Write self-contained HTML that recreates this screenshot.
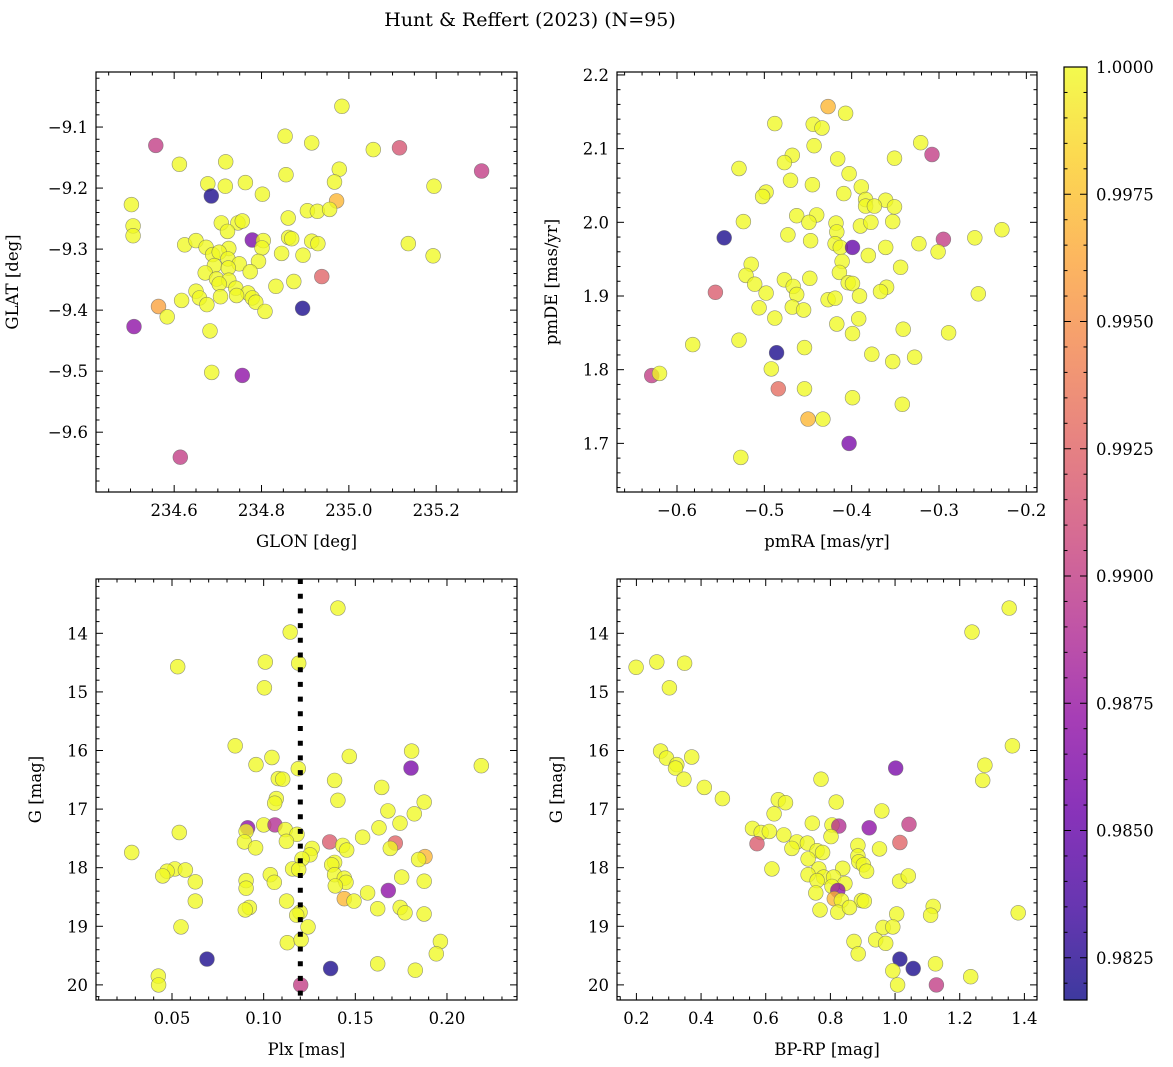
<!DOCTYPE html>
<html><head><meta charset="utf-8">
<style>
html,body{margin:0;padding:0;background:#fff;}
svg{display:block;font-family:"DejaVu Serif","Liberation Serif",serif;}
</style></head>
<body>
<svg id="fig" width="1173" height="1067" viewBox="0 0 1173 1067">
<defs>
<linearGradient id="plasmaGrad" x1="0" y1="1" x2="0" y2="0">
<stop offset="0" stop-color="#0d0887"/><stop offset="0.1" stop-color="#41049d"/><stop offset="0.2" stop-color="#6a00a8"/><stop offset="0.3" stop-color="#8f0da4"/><stop offset="0.4" stop-color="#b12a90"/><stop offset="0.5" stop-color="#cc4778"/><stop offset="0.6" stop-color="#e16462"/><stop offset="0.7" stop-color="#f2844b"/><stop offset="0.8" stop-color="#fca636"/><stop offset="0.9" stop-color="#fcce25"/><stop offset="1" stop-color="#f0f921"/>
</linearGradient>
</defs>
<text x="530" y="26" text-anchor="middle" font-size="19">Hunt &amp; Reffert (2023) (N=95)</text>
</svg>
<script>
// Panel 1: GLON / GLAT
const p1x=[234.984,234.854,234.915,234.558,235.056,235.116,235.304,234.612,234.718,234.978,234.856,234.677,234.717,234.763,234.967,234.685,234.802,235.195,234.502,234.972,234.905,234.928,234.956,234.861,234.708,234.746,234.756,234.506,234.722,234.506,234.779,234.804,234.862,234.869,234.915,234.929,235.136,234.624,234.650,234.673,234.725,234.801,234.688,234.703,234.846,234.895,235.193,234.723,234.749,234.793,234.692,234.724,234.671,234.774,234.938,234.697,234.725,234.833,234.874,234.650,234.741,234.703,234.769,234.658,234.706,234.743,234.779,234.787,234.617,234.675,234.564,234.808,234.894,234.584,234.508,234.682,234.686,234.756,234.614];
const p1y=[-9.066,-9.115,-9.126,-9.130,-9.137,-9.134,-9.172,-9.161,-9.157,-9.169,-9.178,-9.193,-9.197,-9.191,-9.190,-9.213,-9.210,-9.197,-9.227,-9.221,-9.237,-9.238,-9.235,-9.249,-9.257,-9.257,-9.254,-9.262,-9.271,-9.278,-9.285,-9.286,-9.281,-9.283,-9.287,-9.291,-9.291,-9.293,-9.286,-9.297,-9.299,-9.298,-9.309,-9.305,-9.307,-9.310,-9.311,-9.316,-9.324,-9.320,-9.327,-9.331,-9.339,-9.337,-9.345,-9.349,-9.351,-9.361,-9.353,-9.369,-9.364,-9.357,-9.372,-9.380,-9.378,-9.376,-9.380,-9.387,-9.384,-9.391,-9.394,-9.402,-9.397,-9.411,-9.427,-9.434,-9.502,-9.507,-9.641];
const p1p=[1,1,1,.990,1,.9915,.990,1,1,1,
1,1,1,1,1,.982,1,1,1,.997,
1,1,1,1,1,1,1,1,1,1,
.986,1,1,1,1,1,1,1,1,1,
1,1,1,1,1,1,1,1,1,1,
1,1,1,1,.9925,1,1,1,1,1,
1,1,1,1,1,1,1,1,1,1,
.996,1,.982,1,.987,1,1,.987,.990];
// Panel 2: pmRA / pmDE
const p2x=[-0.427,-0.407,-0.488,-0.444,-0.434,-0.321,-0.308,-0.443,-0.468,-0.477,-0.416,-0.351,-0.529,-0.403,-0.470,-0.445,-0.389,-0.498,-0.502,-0.409,-0.384,-0.361,-0.384,-0.374,-0.351,-0.463,-0.440,-0.449,-0.418,-0.390,-0.378,-0.353,-0.524,-0.417,-0.228,-0.473,-0.447,-0.546,-0.419,-0.413,-0.399,-0.295,-0.259,-0.323,-0.361,-0.301,-0.381,-0.411,-0.515,-0.344,-0.414,-0.521,-0.448,-0.477,-0.511,-0.467,-0.404,-0.399,-0.556,-0.498,-0.463,-0.360,-0.367,-0.391,-0.427,-0.419,-0.255,-0.506,-0.468,-0.455,-0.488,-0.392,-0.417,-0.399,-0.341,-0.289,-0.582,-0.529,-0.454,-0.486,-0.377,-0.328,-0.353,-0.492,-0.629,-0.620,-0.484,-0.454,-0.399,-0.342,-0.450,-0.433,-0.403,-0.527];
const p2y=[2.157,2.148,2.134,2.133,2.128,2.108,2.092,2.104,2.091,2.081,2.086,2.087,2.073,2.066,2.057,2.051,2.048,2.041,2.035,2.039,2.031,2.030,2.022,2.022,2.021,2.009,2.010,2.000,1.999,1.995,2.000,2.001,2.001,1.987,1.990,1.983,1.975,1.979,1.971,1.966,1.966,1.977,1.979,1.971,1.966,1.960,1.955,1.947,1.943,1.939,1.932,1.928,1.924,1.922,1.916,1.913,1.918,1.917,1.905,1.904,1.902,1.912,1.906,1.900,1.895,1.897,1.903,1.884,1.885,1.881,1.870,1.869,1.862,1.849,1.855,1.850,1.834,1.840,1.830,1.823,1.821,1.817,1.811,1.801,1.792,1.795,1.774,1.774,1.762,1.753,1.733,1.733,1.700,1.681];
const p2p=[.997,1,1,1,1,1,.990,1,1,1,
1,1,1,1,1,1,1,1,1,1,
1,1,1,1,1,1,1,1,1,1,
1,1,1,1,1,1,1,.982,1,1,
.985,.990,1,1,1,1,1,1,1,1,
1,1,1,1,1,1,1,1,.992,1,
1,1,1,1,1,1,1,1,1,1,
1,1,1,1,1,1,1,1,1,.982,
1,1,1,1,.990,1,.993,1,1,1,
.997,1,.986,1];
// Panel 3: Plx / G
const p3x=[0.1405,0.1145,0.0531,0.1009,0.1191,0.1004,0.0845,0.1045,0.0958,0.1467,0.1807,0.2187,0.1189,0.1804,0.1080,0.1104,0.1387,0.1644,0.1069,0.1060,0.1405,0.1876,0.1678,0.1822,0.1744,0.1000,0.1062,0.0913,0.1118,0.0904,0.1182,0.0540,0.1629,0.1540,0.1124,0.0895,0.1360,0.1431,0.1453,0.0956,0.1264,0.1718,0.1691,0.0280,0.1253,0.1209,0.1880,0.1845,0.1387,0.1371,0.1158,0.1191,0.0515,0.0473,0.0573,0.0449,0.1036,0.1387,0.1440,0.1449,0.1753,0.1876,0.0904,0.0627,0.1058,0.0904,0.1391,0.1680,0.1567,0.1440,0.1493,0.0627,0.1125,0.0922,0.0900,0.1622,0.1745,0.1771,0.1875,0.1198,0.1180,0.1242,0.0549,0.1129,0.1204,0.1964,0.1942,0.0691,0.1365,0.1622,0.1827,0.0425,0.0427,0.1202];
const p3y=[13.57,13.98,14.57,14.49,14.51,14.93,15.92,16.12,16.24,16.10,16.01,16.26,16.31,16.30,16.48,16.49,16.51,16.63,16.82,16.90,16.85,16.88,17.03,17.08,17.24,17.27,17.27,17.32,17.35,17.38,17.43,17.40,17.32,17.48,17.55,17.56,17.56,17.62,17.70,17.66,17.67,17.58,17.67,17.74,17.78,17.85,17.81,17.86,17.91,17.95,18.02,18.03,18.02,18.06,18.04,18.14,18.12,18.12,18.18,18.25,18.16,18.23,18.22,18.24,18.25,18.35,18.31,18.39,18.43,18.53,18.57,18.57,18.57,18.68,18.72,18.70,18.68,18.77,18.79,18.76,18.81,19.01,19.01,19.28,19.23,19.26,19.47,19.56,19.72,19.64,19.75,19.85,20.00,20.00];
const p3p=[1,1,1,1,1,1,1,1,1,1,
1,1,1,.986,1,1,1,1,1,1,
1,1,1,1,1,1,.989,.987,1,1,
1,1,1,1,1,1,.992,1,1,1,
1,.9925,1,1,1,1,.997,1,1,1,
1,1,1,1,1,1,1,1,1,1,
1,1,1,1,1,1,1,.987,1,.997,
1,1,1,1,1,1,1,1,1,1,
1,1,1,1,1,1,1,.982,.982,1,
1,1,1,.990];
const plxCut=[0.12];
// Panel 4: BP-RP / G
const p4x=[1.353,1.238,0.199,0.263,0.349,0.302,0.275,0.293,0.325,0.321,0.371,1.363,1.002,1.278,1.271,0.347,0.410,0.771,0.466,0.639,0.661,0.818,0.626,0.959,0.744,0.805,0.826,0.920,1.043,0.559,0.586,0.611,0.573,0.656,0.802,1.015,0.696,0.729,0.681,0.885,0.952,0.759,0.776,0.885,0.731,0.888,0.902,0.912,0.619,0.764,0.838,0.731,0.779,0.759,0.810,0.845,0.805,1.014,1.041,0.755,0.823,0.812,0.834,0.896,0.905,0.768,0.823,0.859,1.005,1.118,1.110,1.381,0.963,0.993,0.873,0.940,0.971,0.886,1.015,1.056,0.993,1.125,1.234,1.008,1.128];
const p4y=[13.57,13.98,14.58,14.49,14.51,14.93,16.01,16.13,16.24,16.30,16.11,15.92,16.30,16.25,16.51,16.49,16.63,16.49,16.82,16.84,16.89,16.88,17.08,17.03,17.24,17.27,17.29,17.32,17.26,17.33,17.40,17.38,17.59,17.44,17.47,17.57,17.56,17.58,17.67,17.62,17.68,17.71,17.74,17.80,17.85,17.90,17.95,18.06,18.02,18.02,18.01,18.12,18.16,18.22,18.16,18.27,18.32,18.23,18.14,18.43,18.39,18.53,18.56,18.56,18.57,18.72,18.76,18.68,18.79,18.66,18.81,18.77,19.02,19.01,19.26,19.23,19.29,19.47,19.56,19.72,19.76,19.64,19.86,20.00,20.00];
const p4p=[1,1,1,1,1,1,1,1,1,1,
1,1,.986,1,1,1,1,1,1,1,
1,1,1,1,1,1,.989,.987,.990,1,
1,1,.992,1,1,.9925,1,1,1,1,
1,1,1,1,1,1,1,1,1,1,
1,1,1,1,1,1,1,1,1,1,
.987,.997,1,1,1,1,1,1,1,1,
1,1,1,1,1,1,1,1,.982,.982,
1,1,1,1,.990];
// Colorbar
const cbTicks=[0.9825,0.9850,0.9875,0.9900,0.9925,0.9950,0.9975,1.0000];
const cbMin=0.98167, cbMax=1.0;

const NS='http://www.w3.org/2000/svg';
const svg=document.getElementById('fig');
function mk(tag,attrs,parent){const e=document.createElementNS(NS,tag);for(const k in attrs)e.setAttribute(k,attrs[k]);(parent||svg).appendChild(e);return e;}
const stops=[[0,13,8,135],[.1,65,4,157],[.2,106,0,168],[.3,143,13,164],[.4,177,42,144],[.5,204,71,120],[.6,225,100,98],[.7,242,132,75],[.8,252,166,54],[.9,252,206,37],[1,240,249,33]];
function plasma(t){t=Math.max(0,Math.min(1,t));for(let i=1;i<stops.length;i++){if(t<=stops[i][0]){const a=stops[i-1],b=stops[i];const f=(t-a[0])/(b[0]-a[0]);return 'rgb('+[1,2,3].map(j=>Math.round(a[j]+(b[j]-a[j])*f)).join(',')+')';}}return 'rgb(240,249,33)';}

const panels=[
 {name:'glon-glat',x:96,y:72,w:421,h:420,xd:[234.421,235.385],yd:[-9.698,-9.0098],inv:false,
  xt:[234.6,234.8,235.0,235.2],xf:v=>v.toFixed(1),xm:0.05,yt:[-9.6,-9.5,-9.4,-9.3,-9.2,-9.1],yf:v=>'\u2212'+Math.abs(v).toFixed(1),ym:0.02,
  xl:'GLON [deg]',yl:'GLAT [deg]',ylx:18,xs:p1x,ys:p1y,ps:p1p},
 {name:'pmra-pmde',x:617,y:72,w:420,h:420,xd:[-0.6687,-0.1878],yd:[1.634,2.204],inv:false,
  xt:[-0.6,-0.5,-0.4,-0.3,-0.2],xf:v=>'\u2212'+Math.abs(v).toFixed(1),xm:0.02,yt:[1.7,1.8,1.9,2.0,2.1,2.2],yf:v=>v.toFixed(1),ym:0.02,
  xl:'pmRA [mas/yr]',yl:'pmDE [mas/yr]',ylx:557,xs:p2x,ys:p2y,ps:p2p},
 {name:'plx-g',x:96,y:579,w:421,h:421,xd:[0.00854,0.2382],yd:[13.073,20.258],inv:true,
  xt:[0.05,0.10,0.15,0.20],xf:v=>v.toFixed(2),xm:0.01,yt:[14,15,16,17,18,19,20],yf:v=>String(v),ym:0.2,
  xl:'Plx [mas]',yl:'G [mag]',ylx:41,xs:p3x,ys:p3y,ps:p3p,vline:plxCut},
 {name:'bprp-g',x:617,y:579,w:420,h:421,xd:[0.140,1.439],yd:[13.073,20.258],inv:true,
  xt:[0.2,0.4,0.6,0.8,1.0,1.2,1.4],xf:v=>v.toFixed(1),xm:0.05,yt:[14,15,16,17,18,19,20],yf:v=>String(v),ym:0.2,
  xl:'BP-RP [mag]',yl:'G [mag]',ylx:562,xs:p4x,ys:p4y,ps:p4p}
];

panels.forEach(P=>{
 const g=mk('g',{});
 
 
 const sx=v=>P.x+(v-P.xd[0])/(P.xd[1]-P.xd[0])*P.w;
 const sy=v=>P.inv? P.y+(v-P.yd[0])/(P.yd[1]-P.yd[0])*P.h : P.y+P.h-(v-P.yd[0])/(P.yd[1]-P.yd[0])*P.h;
 const clipId='clip-'+P.name;
 const cp=mk('clipPath',{id:clipId},g);mk('rect',{x:P.x,y:P.y,width:P.w,height:P.h},cp);
 const pts=mk('g',{'clip-path':'url(#'+clipId+')'},g);
 
 
 for(let i=0;i<P.xs.length;i++){
  const c=mk('circle',{cx:sx(P.xs[i]).toFixed(1),cy:sy(P.ys[i]).toFixed(1),r:7.4,fill:plasma((P.ps[i]-cbMin)/(cbMax-cbMin)),'fill-opacity':0.78,stroke:'#666','stroke-width':0.6,'stroke-opacity':0.7},pts);
  
  
 }
 if(P.vline){P.vline.forEach(v=>{const l=mk('line',{x1:sx(v),x2:sx(v),y1:P.y,y2:P.y+P.h,stroke:'#000','stroke-width':5,'stroke-dasharray':'5 9.7'},g);
  
  });}
 const box=mk('rect',{x:P.x,y:P.y,width:P.w,height:P.h,fill:'none',stroke:'#000','stroke-width':1.2},g);
 
 
 const tk=(x1,y1,x2,y2)=>mk('line',{x1,y1,x2,y2,stroke:'#000','stroke-width':1},g);
 const x0=Math.ceil(P.xd[0]/P.xm-1e-6);
 for(let k=x0;k*P.xm<=P.xd[1];k++){const v=k*P.xm;const X=sx(v);const major=P.xt.some(t=>Math.abs(t-v)<P.xm/10);const L=major?7:3.5;tk(X,P.y+P.h,X,P.y+P.h-L);tk(X,P.y,X,P.y+L);}
 const y0=Math.ceil(P.yd[0]/P.ym-1e-6);
 for(let k=y0;k*P.ym<=P.yd[1];k++){const v=k*P.ym;const Y=sy(v);const major=P.yt.some(t=>Math.abs(t-v)<P.ym/10);const L=major?7:3.5;tk(P.x,Y,P.x+L,Y);tk(P.x+P.w,Y,P.x+P.w-L,Y);}
 P.xt.forEach(v=>{const t=mk('text',{x:sx(v),y:P.y+P.h+24,'text-anchor':'middle','font-size':16.5},g);t.textContent=P.xf(v);
  
  });
 P.yt.forEach(v=>{const t=mk('text',{x:P.x-8,y:sy(v)+6,'text-anchor':'end','font-size':16.5},g);t.textContent=P.yf(v);
  
  });
 const xl=mk('text',{x:P.x+P.w/2,y:P.y+P.h+55,'text-anchor':'middle','font-size':16.5},g);xl.textContent=P.xl;
 
 
 const cy=P.y+P.h/2;
 const yl=mk('text',{x:P.ylx,y:cy,'text-anchor':'middle','font-size':16.5,transform:'rotate(-90 '+P.ylx+' '+cy+')'},g);yl.textContent=P.yl;
 
 
});

// colorbar
const cb=mk('g',{});


const cbX=1064,cbY=67,cbW=23,cbH=933;
mk('rect',{x:cbX,y:cbY,width:cbW,height:cbH,fill:'#fff'},cb);
mk('rect',{x:cbX,y:cbY,width:cbW,height:cbH,fill:'url(#plasmaGrad)','fill-opacity':0.8},cb);
mk('rect',{x:cbX,y:cbY,width:cbW,height:cbH,fill:'none',stroke:'#000','stroke-width':1.2},cb);
const cby=v=>cbY+cbH-(v-cbMin)/(cbMax-cbMin)*cbH;
for(let k=Math.ceil(cbMin/0.0005-1e-6);k*0.0005<=cbMax+1e-9;k++){const v=k*0.0005;const Y=cby(v);const major=cbTicks.some(t=>Math.abs(t-v)<1e-6);const L=major?7:3.5;mk('line',{x1:cbX+cbW,y1:Y,x2:cbX+cbW-L,y2:Y,stroke:'#000','stroke-width':1},cb);mk('line',{x1:cbX,y1:Y,x2:cbX+L,y2:Y,stroke:'#000','stroke-width':1},cb);}
cbTicks.forEach(v=>{const t=mk('text',{x:cbX+cbW+9,y:cby(v)+6,'font-size':16.5},cb);t.textContent=v.toFixed(4);
 
 });
</script>
</body></html>
